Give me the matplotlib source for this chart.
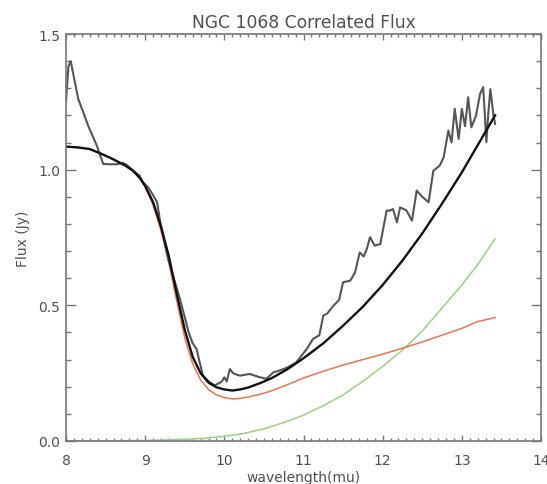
import numpy as np
import matplotlib.pyplot as plt
from matplotlib.ticker import MultipleLocator

# observed correlated flux (noisy)
obs_wl = [8.0, 8.03, 8.06, 8.1, 8.155, 8.22, 8.28, 8.39, 8.47, 8.55, 8.64, 8.72, 8.77, 8.85,
          8.93, 8.97, 9.05, 9.15, 9.19, 9.3, 9.44, 9.55, 9.6, 9.65, 9.68, 9.73, 9.8, 9.88,
          9.95, 9.97, 10.0, 10.03, 10.07, 10.11, 10.15, 10.2, 10.32, 10.45, 10.53, 10.62,
          10.7, 10.79, 10.91, 11.04, 11.12, 11.2, 11.25, 11.3, 11.38, 11.45, 11.5, 11.59,
          11.65, 11.71, 11.76, 11.8, 11.84, 11.9, 11.97, 12.05, 12.09, 12.13, 12.18, 12.22,
          12.3, 12.37, 12.43, 12.5, 12.58, 12.64, 12.72, 12.77, 12.83, 12.87, 12.91, 12.96,
          13.0, 13.04, 13.08, 13.12, 13.18, 13.23, 13.27, 13.31, 13.33, 13.36, 13.4, 13.42]
obs_flux = [1.25, 1.38, 1.40, 1.34, 1.26, 1.21, 1.162, 1.088, 1.021, 1.02, 1.02, 1.025, 1.017,
            0.996, 0.978, 0.955, 0.93, 0.881, 0.807, 0.66, 0.523, 0.40, 0.36, 0.339, 0.30,
            0.241, 0.22, 0.205, 0.216, 0.22, 0.235, 0.22, 0.265, 0.25, 0.245, 0.241, 0.247,
            0.235, 0.229, 0.253, 0.26, 0.27, 0.29, 0.339, 0.376, 0.39, 0.462, 0.47, 0.499,
            0.52, 0.585, 0.591, 0.62, 0.695, 0.68, 0.708, 0.751, 0.72, 0.726, 0.849, 0.849,
            0.855, 0.806, 0.861, 0.85, 0.812, 0.923, 0.90, 0.88, 0.996, 1.015, 1.045, 1.144,
            1.10, 1.224, 1.113, 1.224, 1.16, 1.267, 1.156, 1.2, 1.279, 1.304, 1.101, 1.19,
            1.297, 1.2, 1.169]

# total model (black smooth)
mod_wl = [8.0, 8.15, 8.3, 8.45, 8.55, 8.65, 8.75, 8.85, 8.93, 9.0, 9.1, 9.2, 9.3, 9.4, 9.5,
          9.6, 9.7, 9.8, 9.9, 10.0, 10.1, 10.2, 10.3, 10.45, 10.6, 10.8, 11.0, 11.25, 11.5,
          11.75, 12.0, 12.25, 12.5, 12.75, 13.0, 13.2, 13.42]
mod_flux = [1.085, 1.082, 1.076, 1.058, 1.045, 1.03, 1.015, 0.995, 0.97, 0.94, 0.88, 0.79,
            0.68, 0.54, 0.41, 0.31, 0.25, 0.215, 0.198, 0.19, 0.186, 0.19, 0.197, 0.213,
            0.232, 0.265, 0.305, 0.36, 0.425, 0.495, 0.575, 0.665, 0.765, 0.875, 0.99, 1.09,
            1.20]

# red component
red_wl = [8.0, 8.15, 8.3, 8.45, 8.55, 8.65, 8.75, 8.85, 8.93, 9.0, 9.1, 9.2, 9.3, 9.4, 9.5,
          9.6, 9.7, 9.8, 9.9, 10.0, 10.1, 10.2, 10.3, 10.45, 10.6, 10.8, 11.0, 11.25, 11.5,
          11.75, 12.0, 12.25, 12.5, 12.75, 13.0, 13.2, 13.42]
red_flux = [1.085, 1.082, 1.076, 1.058, 1.045, 1.03, 1.015, 0.995, 0.972, 0.935, 0.87, 0.775,
            0.655, 0.515, 0.38, 0.285, 0.225, 0.19, 0.17, 0.16, 0.155, 0.157, 0.162, 0.172,
            0.185, 0.208, 0.232, 0.257, 0.28, 0.3, 0.32, 0.342, 0.365, 0.39, 0.415, 0.44,
            0.455]

# green component
grn_wl = [8.0, 8.5, 9.0, 9.5, 9.75, 10.0, 10.25, 10.5, 10.75, 11.0, 11.25, 11.5, 11.75, 12.0,
          12.25, 12.5, 12.75, 13.0, 13.2, 13.42]
grn_flux = [0.0, 0.0, 0.002, 0.006, 0.01, 0.017, 0.028, 0.045, 0.068, 0.095, 0.13, 0.17, 0.22,
            0.275, 0.335, 0.405, 0.49, 0.575, 0.65, 0.745]

txt = '#505050'
plt.rcParams['font.family'] = ['DejaVu Sans']

fig = plt.figure(figsize=(5.47, 4.85), dpi=100)
ax = fig.add_axes([66/547, 43/485, 475/547, 407/485])

ax.plot(grn_wl, grn_flux, color='#95d67f', lw=1.1)
ax.plot(red_wl, red_flux, color='#f5714f', lw=1.1)
ax.plot(obs_wl, obs_flux, color='#555555', lw=1.5)
ax.plot(mod_wl, mod_flux, color='#111111', lw=1.7)

ax.set_xlim(8, 14)
ax.set_ylim(0, 1.5)
ax.xaxis.set_major_locator(MultipleLocator(1))
ax.xaxis.set_minor_locator(MultipleLocator(0.1))
ax.yaxis.set_major_locator(MultipleLocator(0.5))
ax.yaxis.set_minor_locator(MultipleLocator(0.1))
ax.set_yticks([0, 0.5, 1.0, 1.5], ['0.0', '0.5', '1.0', '1.5'])

ax.tick_params(which='both', direction='in', top=True, right=True, colors='#777777',
               labelcolor=txt, labelsize=10, width=1.0)
ax.tick_params(axis='x', which='major', length=4.5, pad=9)
ax.tick_params(axis='x', which='minor', length=2.2)
ax.tick_params(axis='y', which='major', length=7.5, pad=4)
ax.tick_params(axis='y', which='minor', length=3.8)
for s in ax.spines.values():
    s.set_color('#777777')
    s.set_linewidth(1.2)

ax.set_title('NGC 1068 Correlated Flux', color=txt, fontsize=12.3, pad=5)
ax.set_xlabel('wavelength(mu)', color=txt, fontsize=10, labelpad=2)
ax.set_ylabel('Flux (Jy)', color=txt, fontsize=10, labelpad=6)

fig.savefig('out.png', dpi=100)
